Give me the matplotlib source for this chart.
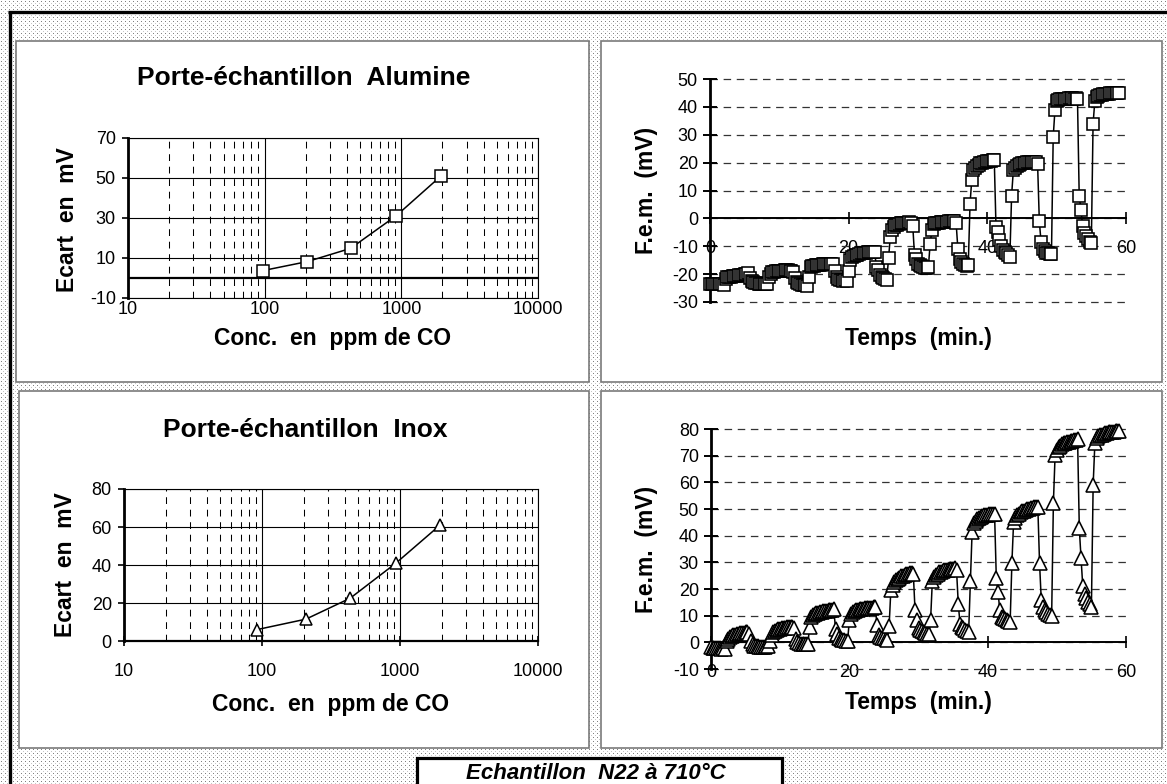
import numpy as np
import matplotlib
matplotlib.use("Agg")
import matplotlib.pyplot as plt
from matplotlib.patches import Rectangle
from matplotlib.lines import Line2D
from matplotlib.ticker import LogLocator, NullFormatter

plt.rcParams['font.family'] = ['Liberation Sans', 'DejaVu Sans']
plt.rcParams['axes.unicode_minus'] = False

# ---- data ----
# ecart vs CO concentration (log axis)
conc_alumine = [97, 205, 425, 920, 1950]
ecart_alumine = [3.7, 8.2, 14.8, 31.2, 51.0]
conc_inox = [92, 208, 435, 935, 1950]
ecart_inox = [6.0, 11.5, 22.5, 41.0, 61.0]

conc_ticks = [10, 100, 1000, 10000]
conc_ticklabels = ['10', '100', '1000', '10000']
ecart_alu_ticks = [-10, 10, 30, 50, 70]
ecart_inox_ticks = [0, 20, 40, 60, 80]

# f.e.m. recordings, one reading every 15 s (minutes)
temps = [
    0, 0.25, 0.5, 0.75, 1, 1.25, 1.5, 1.75,
    2, 2.25, 2.5, 2.75, 3, 3.25, 3.5, 3.75,
    4, 4.25, 4.5, 4.75, 5, 5.25, 5.5, 5.75,
    6, 6.25, 6.5, 6.75, 7, 7.25, 7.5, 7.75,
    8, 8.25, 8.5, 8.75, 9, 9.25, 9.5, 9.75,
    10, 10.25, 10.5, 10.75, 11, 11.25, 11.5, 11.75,
    12, 12.25, 12.5, 12.75, 13, 13.25, 13.5, 13.75,
    14, 14.25, 14.5, 14.75, 15, 15.25, 15.5, 15.75,
    16, 16.25, 16.5, 16.75, 17, 17.25, 17.5, 17.75,
    18, 18.25, 18.5, 18.75, 19, 19.25, 19.5, 19.75,
    20, 20.25, 20.5, 20.75, 21, 21.25, 21.5, 21.75,
    22, 22.25, 22.5, 22.75, 23, 23.25, 23.5, 23.75,
    24, 24.25, 24.5, 24.75, 25, 25.25, 25.5, 25.75,
    26, 26.25, 26.5, 26.75, 27, 27.25, 27.5, 27.75,
    28, 28.25, 28.5, 28.75, 29, 29.25, 29.5, 29.75,
    30, 30.25, 30.5, 30.75, 31, 31.25, 31.5, 31.75,
    32, 32.25, 32.5, 32.75, 33, 33.25, 33.5, 33.75,
    34, 34.25, 34.5, 34.75, 35, 35.25, 35.5, 35.75,
    36, 36.25, 36.5, 36.75, 37, 37.25, 37.5, 37.75,
    38, 38.25, 38.5, 38.75, 39, 39.25, 39.5, 39.75,
    40, 40.25, 40.5, 40.75, 41, 41.25, 41.5, 41.75,
    42, 42.25, 42.5, 42.75, 43, 43.25, 43.5, 43.75,
    44, 44.25, 44.5, 44.75, 45, 45.25, 45.5, 45.75,
    46, 46.25, 46.5, 46.75, 47, 47.25, 47.5, 47.75,
    48, 48.25, 48.5, 48.75, 49, 49.25, 49.5, 49.75,
    50, 50.25, 50.5, 50.75, 51, 51.25, 51.5, 51.75,
    52, 52.25, 52.5, 52.75, 53, 53.25, 53.5, 53.75,
    54, 54.25, 54.5, 54.75, 55, 55.25, 55.5, 55.75,
    56, 56.25, 56.5, 56.75, 57, 57.25, 57.5, 57.75,
    58, 58.25, 58.5, 58.75, 59,
]

fem_alumine = [
    -23.5, -23.6, -23.4, -23.6, -23.5, -23.4, -23.6, -23.7, -24.0,
    -21.8, -21.2, -21.0, -21.0, -20.8, -20.7, -20.6, -20.5, -20.4, -20.3, -20.2, -20.0, -19.8, -19.6,
    -21.5, -22.6, -23.0, -23.2, -23.3, -23.4, -23.5, -23.5, -23.4, -23.5, -23.4,
    -21.0, -19.8, -19.4, -19.2, -19.0, -18.9, -18.8, -18.7, -18.7, -18.6, -18.6, -18.6, -18.7, -18.8, -19.2,
    -21.5, -22.8, -23.3, -23.6, -23.8, -23.9, -24.0, -24.1,
    -21.2, -17.6, -17.2, -17.0, -16.9, -16.8, -16.7, -16.6, -16.5, -16.4, -16.4, -16.3, -16.2, -16.2, -16.3,
    -19.0, -21.0, -21.8, -22.0, -22.2, -22.3, -22.2, -22.4,
    -19.0, -15.0, -14.0, -13.5, -13.2, -13.0, -12.8, -12.6, -12.5, -12.4, -12.3, -12.2, -12.1, -12.0, -12.0, -12.1,
    -17.4, -18.6, -20.4, -21.0, -21.5, -21.8, -22.0,
    -14.2, -6.7, -4.3, -3.0, -2.5, -2.2, -2.0, -1.8, -1.7, -1.6, -1.5, -1.5, -1.4, -1.5, -2.9,
    -13.3, -14.5, -16.2, -16.8, -17.2, -17.5, -17.8, -17.9, -17.4,
    -9.1, -4.3, -2.1, -1.8, -1.6, -1.5, -1.4, -1.3, -1.3, -1.2, -1.2, -1.1, -1.1, -1.0, -1.1, -1.7,
    -10.9, -14.5, -15.7, -16.5, -16.9, -17.2, -16.8,
    5.0, 13.8, 17.2, 18.2, 18.8, 19.3, 19.7, 20.0, 20.2, 20.4, 20.5, 20.6, 20.7, 20.8, 21.0,
    -3.1, -4.9, -7.9, -10.0, -11.2, -12.0, -12.6, -13.2, -13.9,
    8.2, 17.2, 18.2, 18.8, 19.2, 19.5, 19.7, 19.9, 20.0, 20.1, 20.2, 20.3, 20.3, 20.4, 20.3, 19.4,
    -1.1, -8.5, -10.9, -11.8, -12.3, -12.6, -12.8, -12.9,
    29.2, 38.8, 42.0, 42.5, 42.7, 42.8, 42.9, 43.0, 43.0, 43.1, 43.1, 43.1, 43.0, 43.1, 43.0,
    8.2, 3.1, -2.9, -5.2, -6.5, -7.5, -8.3, -8.9,
    33.9, 42.0, 43.5, 44.0, 44.2, 44.4, 44.5, 44.6, 44.7, 44.7, 44.8, 44.8, 44.9, 44.9, 45.0, 45.0,
]

fem_inox = [
    -1.8, -2.0, -2.2, -2.0, -2.3, -2.1, -2.4, -2.2, -2.5,
    0.5, 1.4, 2.0, 2.4, 2.7, 2.9, 3.1, 3.3, 3.4, 3.5, 3.6, 3.7, 3.8, 3.0,
    0.5, -0.8, -1.2, -1.4, -1.5, -1.6, -1.7, -1.6, -1.7, -1.5, -1.4,
    0.5, 2.8, 3.8, 4.3, 4.6, 4.9, 5.1, 5.3, 5.4, 5.5, 5.6, 5.7, 5.8, 5.6, 5.3,
    1.4, 0.2, -0.4, -0.6, -0.7, -0.8, -0.8, -0.8,
    5.8, 9.5, 10.2, 10.6, 10.9, 11.1, 11.3, 11.5, 11.7, 11.8, 11.9, 12.0, 12.1, 12.3, 12.5,
    5.1, 3.3, 1.6, 1.2, 1.0, 0.8, 0.6, 0.5,
    8.3, 10.8, 11.4, 11.8, 12.0, 12.2, 12.4, 12.5, 12.6, 12.7, 12.8, 12.8, 12.9, 13.0, 13.1, 13.3,
    6.4, 2.6, 2.0, 1.7, 1.5, 1.3, 1.0,
    6.0, 19.5, 21.5, 22.5, 23.3, 23.9, 24.3, 24.7, 25.0, 25.3, 25.5, 25.7, 25.9, 26.1, 25.8,
    12.0, 8.5, 5.5, 4.8, 4.3, 3.9, 3.6, 3.3, 3.0,
    8.5, 23.0, 24.5, 25.3, 25.8, 26.2, 26.5, 26.8, 27.0, 27.1, 27.3, 27.4, 27.5, 27.6, 27.7, 27.0,
    14.5, 7.0, 5.8, 5.2, 4.8, 4.4, 3.9,
    23.0, 41.5, 44.6, 45.6, 46.3, 46.8, 47.1, 47.4, 47.6, 47.8, 47.9, 48.0, 48.1, 48.2, 48.0,
    24.0, 18.9, 12.0, 9.5, 9.0, 8.6, 8.3, 8.0, 7.6,
    29.6, 45.2, 46.8, 47.6, 48.2, 48.7, 49.1, 49.4, 49.7, 49.9, 50.1, 50.3, 50.5, 50.6, 50.8, 50.9,
    29.8, 15.8, 13.3, 12.0, 11.2, 10.6, 10.2, 9.8,
    52.1, 70.3, 72.2, 73.2, 73.8, 74.3, 74.6, 74.9, 75.1, 75.3, 75.5, 75.6, 75.8, 75.9, 76.2,
    42.7, 31.5, 21.1, 18.3, 16.5, 15.2, 14.2, 13.3,
    59.0, 74.7, 76.5, 77.2, 77.6, 77.9, 78.2, 78.4, 78.6, 78.7, 78.8, 78.9, 79.0, 79.1, 79.1, 79.2,
]

temps_ticks = [0, 20, 40, 60]
fem_alu_ticks = [-30, -20, -10, 0, 10, 20, 30, 40, 50]
fem_inox_ticks = [-10, 0, 10, 20, 30, 40, 50, 60, 70, 80]

# ---- figure, in pixel units ----
W, H = 1167, 784
fig = plt.figure(figsize=(W / 100, H / 100), dpi=100)


def fx(x):
    return x / W


def fy(y):
    return 1 - y / H


# dotted page background
bg = np.ones((H, W))
bg[1::4, 1::4] = 0.5
bg[3::4, 3::4] = 0.78
fig.figimage(bg, cmap='gray', vmin=0, vmax=1, origin='upper', zorder=0)


def panel(x0, y0, x1, y1):
    fig.add_artist(Rectangle((fx(x0), fy(y1)), (x1 - x0) / W, (y1 - y0) / H,
                             transform=fig.transFigure, fc='white',
                             ec='#7a7a7a', lw=1.2, zorder=0.5))


panel(16, 41, 589, 382)
panel(601, 41, 1162, 382)
panel(19, 391, 589, 748)
panel(601, 391, 1162, 748)

# thick page frame (top and left)
fig.add_artist(Line2D([fx(8), fx(1167)], [fy(11.5), fy(11.5)], transform=fig.transFigure,
                      color='k', lw=2.4, solid_capstyle='butt', zorder=0.6))
fig.add_artist(Line2D([fx(9.5), fx(9.5)], [fy(10.5), fy(784)], transform=fig.transFigure,
                      color='k', lw=2.4, solid_capstyle='butt', zorder=0.6))


def add_ax(x0, y0, x1, y1):
    ax = fig.add_axes([fx(x0), fy(y1), (x1 - x0) / W, (y1 - y0) / H])
    ax.set_zorder(1)
    ax.patch.set_visible(False)
    return ax


TICK_FS = 13
LABEL_FS = 16.5
TITLE_FS = 19


def log_panel(ax, yticks, ylim):
    ax.set_xscale('log')
    ax.set_xlim(10, 10000)
    ax.set_ylim(*ylim)
    ax.set_xticks(conc_ticks)
    ax.set_xticklabels(conc_ticklabels)
    ax.xaxis.set_minor_locator(LogLocator(base=10, subs=range(2, 10)))
    ax.xaxis.set_minor_formatter(NullFormatter())
    ax.set_yticks(yticks)
    ax.grid(axis='y', which='major', color='k', lw=0.8)
    ax.grid(axis='x', which='major', color='k', lw=0.8)
    ax.grid(axis='x', which='minor', color='k', lw=0.75, linestyle=(0, (6.5, 5.5)))
    ax.tick_params(axis='x', which='minor', length=0)
    ax.tick_params(axis='y', direction='out', length=4.3, width=1.2, pad=4.5, labelsize=TICK_FS)
    for s in ['top', 'right']:
        ax.spines[s].set_linewidth(0.8)
    ax.spines['left'].set_linewidth(2.0)
    ax.set_axisbelow(True)


def time_panel(ax, yticks, ylim):
    ax.set_xlim(0, 60)
    ax.set_ylim(*ylim)
    ax.set_xticks(temps_ticks)
    ax.set_yticks(yticks)
    ax.spines['top'].set_visible(False)
    ax.spines['right'].set_visible(False)
    ax.spines['left'].set_linewidth(2.0)
    ax.spines['bottom'].set_position(('data', 0))
    ax.spines['bottom'].set_linewidth(1.4)
    ax.tick_params(axis='y', direction='inout', length=9.4, width=1.4, pad=4, labelsize=TICK_FS)
    ax.tick_params(axis='x', direction='inout', length=8, width=1.2, pad=11.5, labelsize=TICK_FS)
    ax.grid(axis='y', color='#333333', lw=0.9, linestyle=(0, (6, 4.5)))
    for gl in ax.get_ygridlines():
        gl.set_clip_on(False)


# --- top left: alumina holder, ecart vs concentration
ax1 = add_ax(128, 138, 538, 298)
log_panel(ax1, ecart_alu_ticks, (-10, 70))
ax1.spines['bottom'].set_linewidth(0.8)
ax1.axhline(0, color='k', lw=1.6, zorder=2.4)
ax1.tick_params(axis='x', which='major', length=0, pad=2.5, labelsize=TICK_FS)
ax1.plot(conc_alumine, ecart_alumine, color='k', lw=1.1, marker='s', ms=8,
         mfc='white', mec='k', mew=1.1, zorder=3, clip_on=False)

# --- bottom left: inox holder
ax3 = add_ax(124, 489, 538, 641)
log_panel(ax3, ecart_inox_ticks, (0, 80))
ax3.spines['bottom'].set_linewidth(1.6)
ax3.tick_params(axis='x', which='major', direction='inout', length=7, width=1.2,
                pad=12, labelsize=TICK_FS)
ax3.plot(conc_inox, ecart_inox, color='k', lw=1.1, marker='^', ms=9,
         mfc='white', mec='k', mew=1.1, zorder=3, clip_on=False)

# --- top right: f.e.m. alumina holder
ax2 = add_ax(710, 79, 1126, 302)
time_panel(ax2, fem_alu_ticks, (-30, 50))
ax2.plot(temps, fem_alumine, color='k', lw=1.1, marker='s', ms=8.5,
         mfc='white', mec='k', mew=1.15, zorder=3, clip_on=False)

# --- bottom right: f.e.m. inox holder
ax4 = add_ax(711, 429, 1126, 669)
time_panel(ax4, fem_inox_ticks, (-10, 80))
ax4.plot(temps, fem_inox, color='k', lw=1.1, marker='^', ms=9.5,
         mfc='white', mec='k', mew=1.15, zorder=3, clip_on=False)

# ---- texts ----
bold = dict(fontweight='bold', ha='center', va='center')
fig.text(fx(304), fy(78), 'Porte-échantillon  Alumine', fontsize=TITLE_FS, **bold)
fig.text(fx(305), fy(430), 'Porte-échantillon  Inox', fontsize=TITLE_FS, **bold)

fig.text(fx(333), fy(338), 'Conc.  en  ppm de CO', fontsize=LABEL_FS, **bold)
fig.text(fx(67), fy(220), 'Ecart  en  mV', fontsize=LABEL_FS, rotation=90, **bold)
fig.text(fx(331), fy(705), 'Conc.  en  ppm de CO', fontsize=LABEL_FS, **bold)
fig.text(fx(65), fy(565), 'Ecart  en  mV', fontsize=LABEL_FS, rotation=90, **bold)

fig.text(fx(918), fy(338), 'Temps  (min.)', fontsize=LABEL_FS, **bold)
fig.text(fx(647), fy(190), 'F.e.m.  (mV)', fontsize=LABEL_FS, rotation=90, **bold)
fig.text(fx(918), fy(703), 'Temps  (min.)', fontsize=LABEL_FS, **bold)
fig.text(fx(647), fy(549), 'F.e.m.  (mV)', fontsize=LABEL_FS, rotation=90, **bold)

# sample caption box at the bottom
fig.add_artist(Rectangle((fx(416.5), fy(795)), (782 - 416.5) / W, (795 - 758.5) / H,
                         transform=fig.transFigure, fc='white', ec='k', lw=2.3,
                         zorder=0.7, clip_on=False))
fig.text(fx(596), fy(779), 'Echantillon  N22 à 710°C', fontsize=16,
         fontweight='bold', fontstyle='italic', ha='center', va='baseline')

fig.savefig('out.png', dpi=100)
